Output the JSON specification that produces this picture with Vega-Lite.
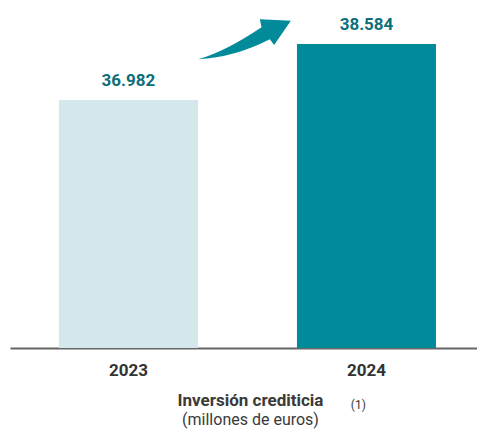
{
  "$schema": "https://vega.github.io/schema/vega-lite/v6.json",
  "autosize": {"type": "none"},
  "width": 467,
  "height": 348,
  "padding": {"left": 10, "top": 0, "right": 0, "bottom": 82},
  "background": "white",
  "config": {"view": {"stroke": null}, "font": "Roboto"},
  "title": {
    "text": "Inversión crediticia",
    "subtitle": "(millones de euros)",
    "orient": "bottom",
    "anchor": "middle",
    "dx": 7,
    "offset": -18,
    "font": "Roboto",
    "fontSize": 17,
    "fontWeight": "bold",
    "color": "#3a3a3a",
    "subtitleFont": "Roboto",
    "subtitleFontSize": 16,
    "subtitleColor": "#3a3a3a",
    "subtitlePadding": 2
  },
  "datasets": {
    "bars": [
      {"year": "2023", "value": 36982, "label": "36.982"},
      {"year": "2024", "value": 38584, "label": "38.584"}
    ],
    "notes": [
      {"pos": 0.502, "value": 38726, "kind": "arrow", "text": ""},
      {"pos": 0.746, "value": 28256, "kind": "note", "text": "(1)"}
    ]
  },
  "layer": [
    {
      "data": {"name": "bars"},
      "layer": [
        {
          "mark": {"type": "bar"},
          "encoding": {
            "x": {
              "field": "year", "type": "nominal",
              "scale": {"paddingInner": 0.416, "paddingOuter": 0.189, "align": 0.544},
              "axis": {
                "title": null, "labelAngle": 0, "ticks": false,
                "domainColor": "#666666", "domainWidth": 2,
                "labelFont": "Roboto", "labelFontSize": 17,
                "labelFontWeight": "bold", "labelColor": "#333333",
                "labelPadding": 14
              }
            },
            "y": {
              "field": "value", "type": "quantitative",
              "scale": {"domain": [29887, 39842], "zero": false, "nice": false},
              "axis": null
            },
            "y2": {"datum": 29887},
            "color": {
              "field": "year", "type": "nominal",
              "scale": {"domain": ["2023", "2024"], "range": ["#d4e7ea", "#008a9a"]},
              "legend": null
            }
          }
        },
        {
          "mark": {"type": "text", "baseline": "bottom", "dy": -10, "fontSize": 17, "fontWeight": "bold", "color": "#0e6f7a", "font": "Roboto"},
          "encoding": {
            "x": {"field": "year", "type": "nominal"},
            "y": {"field": "value", "type": "quantitative"},
            "text": {"field": "label"}
          }
        }
      ]
    },
    {
      "data": {"name": "notes"},
      "transform": [{"filter": "datum.kind == 'arrow'"}],
      "mark": {
        "type": "point", "filled": true, "opacity": 1, "strokeWidth": 0,
        "color": "#008a9a", "size": 8650,
        "shape": "M -0.994 0.437 Q -0.401 0.266 0.368 -0.252 L 0.331 -0.424 L 0.998 -0.394 L 0.639 0.129 L 0.546 0.006 Q -0.224 0.398 -0.994 0.437 Z"
      },
      "encoding": {
        "x": {"field": "pos", "type": "quantitative", "scale": {"domain": [0, 1]}, "axis": null},
        "y": {"field": "value", "type": "quantitative"}
      }
    },
    {
      "data": {"name": "notes"},
      "transform": [{"filter": "datum.kind == 'note'"}],
      "mark": {"type": "text", "fontSize": 12, "color": "#3a3a3a", "font": "Roboto", "clip": false},
      "encoding": {
        "x": {"field": "pos", "type": "quantitative", "scale": {"domain": [0, 1]}, "axis": null},
        "y": {"field": "value", "type": "quantitative"},
        "text": {"field": "text"}
      }
    }
  ],
  "resolve": {"scale": {"x": "independent"}}
}
